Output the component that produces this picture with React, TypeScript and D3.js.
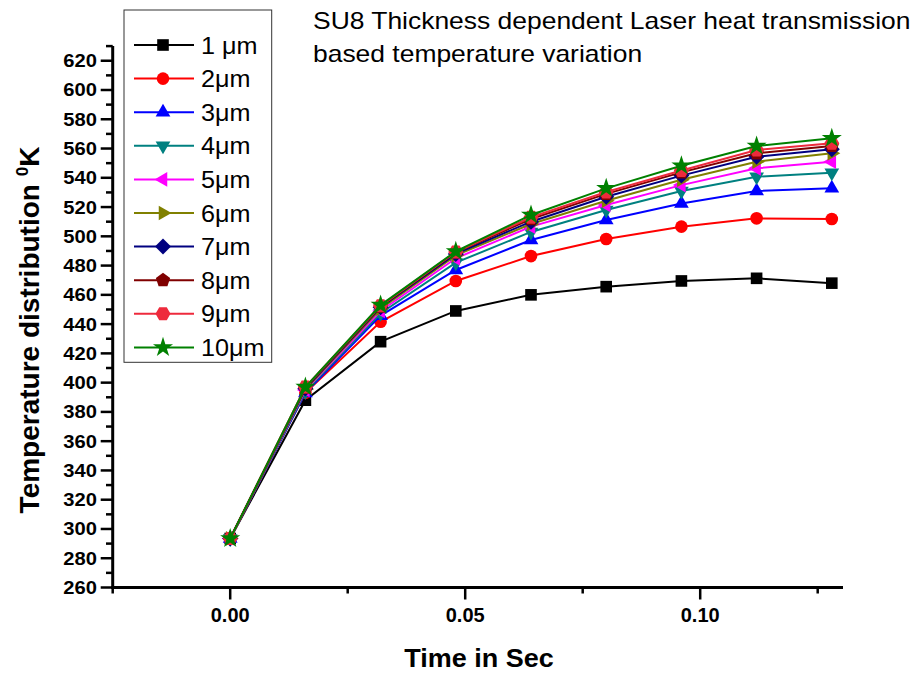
import React from "react";
import * as d3 from "d3";

const times = [0, 0.016, 0.032, 0.048, 0.064, 0.08, 0.096, 0.112, 0.128];
const seriesNames = ["1 \u03bcm", "2\u03bcm", "3\u03bcm", "4\u03bcm", "5\u03bcm", "6\u03bcm", "7\u03bcm", "8\u03bcm", "9\u03bcm", "10\u03bcm"];
const s1 = [293.5, 388, 428, 449, 460, 465.6, 469.5, 471.3, 468];
const s2 = [293.5, 393, 441.6, 469.5, 486.5, 498.2, 506.6, 512.3, 511.8];
const s3 = [293.5, 393, 445.8, 477, 497.5, 511.2, 522.5, 531, 532.8];
const s4 = [293.5, 394, 447.4, 482, 503, 518, 531, 540.7, 543.5];
const s5 = [293.5, 395, 449, 485, 506.6, 521.4, 535, 546.5, 551];
const s6 = [293.5, 395.5, 450.5, 487, 508.4, 524.3, 538.7, 551, 556.7];
const s7 = [293.5, 396, 451.5, 488, 510, 527, 541.5, 554.4, 559.5];
const s8 = [293.5, 396.5, 452, 489, 511.8, 529, 543.7, 556.7, 561.7];
const s9 = [293.5, 397, 452.5, 489.3, 513, 530.3, 545, 559, 563.6];
const s10 = [293.5, 397, 453, 489.7, 514.6, 532.8, 548.2, 561.7, 567];
const allSeries = [s1, s2, s3, s4, s5, s6, s7, s8, s9, s10];
const colors = ["#000000", "#ff0000", "#0000ff", "#008080", "#ff00ff", "#808000", "#000080", "#800000", "#ee2a3c", "#008000"];
const shapes = ["square", "circle", "triUp", "triDown", "triLeft", "triRight", "diamond", "pentagon", "hexagon", "star"];

const yMajorTicks = d3.range(260, 621, 20);
const yMinorTicks = d3.range(270, 631, 20);
const xMajorTicks = [0, 0.05, 0.1];
const xMinorTicks = [-0.025, 0.025, 0.075, 0.125];
const xTickLabels = ["0.00", "0.05", "0.10"];

const titleLines = ["SU8 Thickness dependent Laser heat transmission", "based temperature variation"];

const x = d3.scaleLinear().domain([-0.025, 0.13]).range([112.7, 841.2]);
const y = d3.scaleLinear().domain([260, 630]).range([587.5, 46.1]);

function polygon(n: number, r: number, rot: number): string {
  const pts: [number, number][] = [];
  for (let i = 0; i < n; i++) {
    const a = rot + (i * 2 * Math.PI) / n;
    pts.push([r * Math.cos(a), r * Math.sin(a)]);
  }
  return "M" + pts.map((p) => p[0].toFixed(2) + "," + p[1].toFixed(2)).join("L") + "Z";
}

function markerPath(shape: string): string {
  switch (shape) {
    case "square":
      return d3.symbol(d3.symbolSquare, 135)() as string;
    case "circle":
      return d3.symbol(d3.symbolCircle, 125)() as string;
    case "triUp":
      return polygon(3, 8.5, -Math.PI / 2);
    case "triDown":
      return polygon(3, 8.5, Math.PI / 2);
    case "triLeft":
      return polygon(3, 8.5, Math.PI);
    case "triRight":
      return polygon(3, 8.5, 0);
    case "diamond":
      return polygon(4, 8, -Math.PI / 2);
    case "pentagon":
      return polygon(5, 7.5, -Math.PI / 2);
    case "hexagon":
      return polygon(6, 7.5, 0);
    case "star":
      return d3.symbol(d3.symbolStar, 125)() as string;
  }
  return "";
}

const line = d3
  .line<number>()
  .x((_, i) => x(times[i]))
  .y((d) => y(d));

export default function App() {
  const font = "'Liberation Sans', Arial, sans-serif";
  return (
    <svg
      width={920}
      height={673}
      style={{ position: "absolute", left: 0, top: 0, display: "block", background: "#fff" }}
      fontFamily={font}
    >
      <rect x={0} y={0} width={920} height={673} fill="#fff" />
      {/* title */}
      {titleLines.map((t, i) => (
        <text key={i} transform={`translate(313,${29 + i * 33}) scale(1.15,1)`} fontSize={23} fill="#000">
          {t}
        </text>
      ))}
      {/* y axis */}
      <line x1={112.7} x2={112.7} y1={y(630)} y2={y(260) + 1.5} stroke="#000" strokeWidth={3} />
      {yMajorTicks.map((v) => (
        <g key={"ym" + v}>
          <line x1={100.7} x2={112.7} y1={y(v)} y2={y(v)} stroke="#000" strokeWidth={2.5} />
          <text transform={`translate(97,${y(v)}) scale(1.12,1)`} dy="0.36em" textAnchor="end" fontSize={18} fontWeight="bold">
            {v}
          </text>
        </g>
      ))}
      {yMinorTicks.map((v) => (
        <line key={"yn" + v} x1={106} x2={112.7} y1={y(v)} y2={y(v)} stroke="#000" strokeWidth={2.5} />
      ))}
      {/* x axis */}
      <line x1={111.2} x2={843} y1={587.5} y2={587.5} stroke="#000" strokeWidth={3} />
      {xMajorTicks.map((v, i) => (
        <g key={"xm" + v}>
          <line x1={x(v)} x2={x(v)} y1={587.5} y2={599.5} stroke="#000" strokeWidth={2.5} />
          <text x={x(v)} y={622} textAnchor="middle" fontSize={20} fontWeight="bold">
            {xTickLabels[i]}
          </text>
        </g>
      ))}
      {xMinorTicks.map((v) => (
        <line key={"xn" + v} x1={x(v)} x2={x(v)} y1={587.5} y2={593.5} stroke="#000" strokeWidth={2.5} />
      ))}
      {/* axis titles */}
      <text transform="translate(479,667) scale(1.08,1)" textAnchor="middle" fontSize={25} fontWeight="bold">
        Time in Sec
      </text>
      <text transform="translate(39,330) rotate(-90)" textAnchor="middle" fontSize={28} fontWeight="bold">
        Temperature distribution{" "}
        <tspan fontSize={17} dy={-11}>
          0
        </tspan>
        <tspan dy={11}>K</tspan>
      </text>
      {/* series */}
      {allSeries.map((s, si) => (
        <g key={"s" + si}>
          <path d={line(s) as string} fill="none" stroke={colors[si]} strokeWidth={2} />
          {s.map((v, i) => (
            <path key={i} d={markerPath(shapes[si])} transform={`translate(${x(times[i])},${y(v)})`} fill={colors[si]} />
          ))}
        </g>
      ))}
      {/* legend */}
      <rect x={124} y={10} width={147.7} height={352.3} fill="#fff" stroke="#333" strokeWidth={1} />
      {seriesNames.map((n, i) => {
        const cy = 45 + i * 33.6;
        return (
          <g key={"l" + i}>
            <line x1={134} x2={194} y1={cy} y2={cy} stroke={colors[i]} strokeWidth={2} />
            <path d={markerPath(shapes[i])} transform={`translate(163,${cy})`} fill={colors[i]} />
            <text transform={`translate(201,${cy}) scale(1.05,1)`} dy="0.36em" fontSize={24}>
              {n}
            </text>
          </g>
        );
      })}
    </svg>
  );
}
